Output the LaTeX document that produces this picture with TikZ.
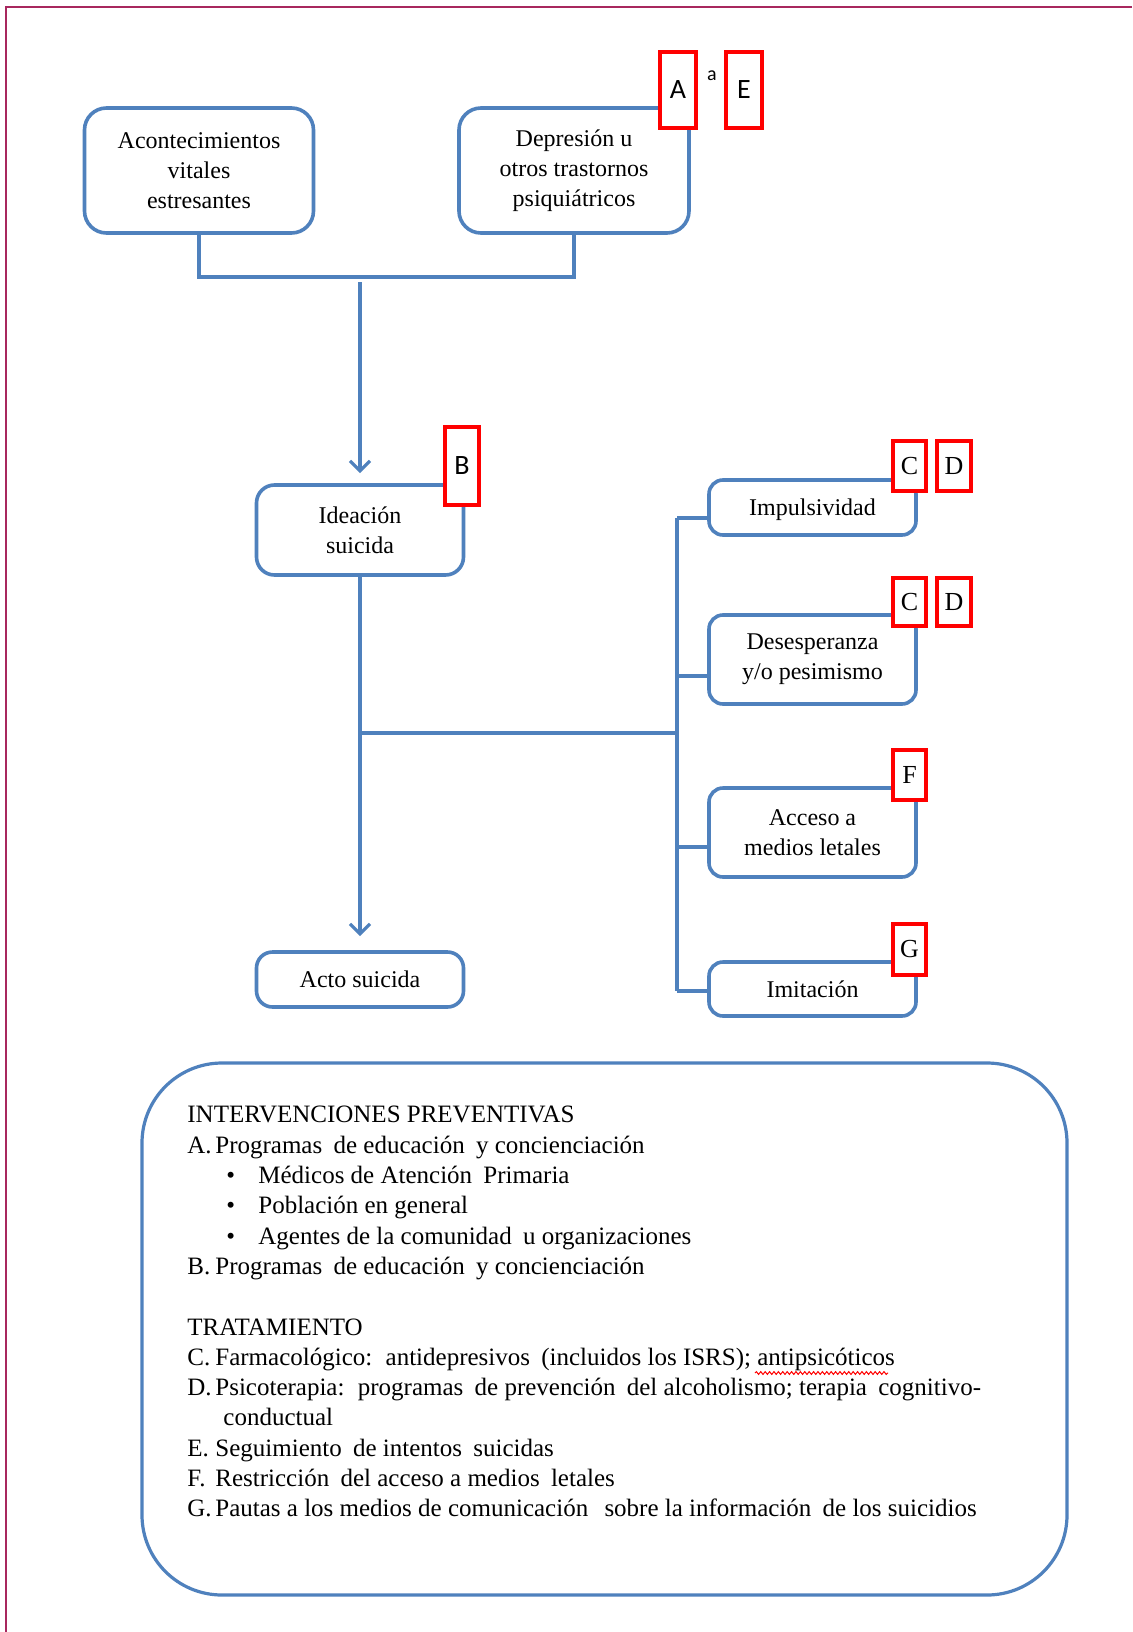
\documentclass[tikz,border=0pt]{standalone}
\usepackage{fontspec}
\setmainfont{Liberation Serif}
\newfontfamily\calfont{Carlito}
\usetikzlibrary{arrows.meta,decorations.pathmorphing}
\definecolor{sablue}{HTML}{4F81BD}
\definecolor{framecol}{HTML}{A8285E}
\newcommand\letitem[2]{\makebox[14pt][l]{#1}#2}
\newcommand\bulitem[1]{\hspace*{19.5pt}\makebox[16pt][l]{•}#1}
\newcommand\xs{\hspace{2.5pt}}
\begin{document}
\begin{tikzpicture}[x=0.5pt,y=-0.5pt,
  blbox/.style={draw=sablue, line width=1.8pt, align=center, inner sep=2pt, font=\fontsize{12}{15}\selectfont},
  redbox/.style={draw=red, line width=1.8pt, fill=white, inner sep=0pt},
  redsans/.style={redbox, font=\calfont\fontsize{14}{14}\selectfont},
  redserif/.style={redbox, font=\fontsize{13}{13}\selectfont},
  conn/.style={draw=sablue, line width=1.6pt},
  arr/.style={conn, -{Straight Barb[length=5pt,width=10pt,line width=1.6pt]}}
]
\useasboundingbox (0,0) rectangle (1132,1632);
\fill[white] (0,0) rectangle (1132,1632);
\draw[framecol, line width=1pt] (1132,7) -- (6,7) -- (6,1632);

% flow boxes
\node[blbox, rounded corners=11pt, minimum width=114.5pt, minimum height=62.5pt] (aco) at (199,170.5) {Acontecimientos\\vitales\\estresantes};
\node[blbox, rounded corners=11pt, minimum width=115pt, minimum height=62.5pt] (dep) at (574,170.5) {Depresión u\\otros trastornos\\psiquiátricos};
\node[blbox, rounded corners=9pt, minimum width=103.5pt, minimum height=45pt] (ide) at (360,530) {Ideación\\suicida};
\node[blbox, rounded corners=8pt, minimum width=103.5pt, minimum height=27.5pt] (acto) at (360,979.5) {Acto suicida};
\node[blbox, rounded corners=7pt, minimum width=103.5pt, minimum height=27.5pt, text depth=0pt] (imp) at (812.5,507.5) {Impulsividad};
\node[blbox, rounded corners=7pt, minimum width=103.5pt, minimum height=44.5pt] (des) at (812.5,659.5) {Desesperanza\\y/o pesimismo};
\node[blbox, rounded corners=7pt, minimum width=103.5pt, minimum height=44.5pt] (acc) at (812.5,832.5) {Acceso a\\medios letales};
\node[blbox, rounded corners=7pt, minimum width=103.5pt, minimum height=27pt] (imi) at (812.5,989) {Imitación};

% connectors
\coordinate (hbar) at (360,277);
\draw[conn] (aco.south) -- (aco.south |- hbar) -- (dep.south |- hbar) -- (dep.south);
\coordinate (trunk) at (360,282);
\draw[arr, shorten >=5pt] (trunk) -- (ide.north);
\draw[arr, shorten >=7pt] (ide.south) -- (acto.north);
\coordinate (split) at (360,733);
\coordinate (bus) at (677,733);
\draw[conn] (split) -- (bus);
\coordinate (b1) at (677,518);
\coordinate (b2) at (677,676);
\coordinate (b3) at (677,847);
\coordinate (b4) at (677,991);
\draw[conn] (b1) -- (b4);
\draw[conn] (b1) -- (b1 -| imp.west);
\draw[conn] (b2) -- (b2 -| des.west);
\draw[conn] (b3) -- (b3 -| acc.west);
\draw[conn] (b4) -- (b4 -| imi.west);

% red markers
\node[redsans, minimum width=18pt, minimum height=38pt] (ra) at (678,90) {A};
\node[redsans, minimum width=18pt, minimum height=38pt] (re) at (744,90) {E};
\node[font=\calfont\fontsize{10}{10}\selectfont, inner sep=0pt] (sa) at (712,76) {a};
\node[redsans, minimum width=17pt, minimum height=39pt] (rb) at (462,466) {B};
\node[redserif, minimum width=16.5pt, minimum height=25pt] (rc1) at (909.5,466) {C};
\node[redserif, minimum width=17pt, minimum height=25pt] (rd1) at (954,466) {D};
\node[redserif, minimum width=16.5pt, minimum height=24pt] (rc2) at (909.5,602) {C};
\node[redserif, minimum width=17pt, minimum height=24pt] (rd2) at (954,602) {D};
\node[redserif, minimum width=16.5pt, minimum height=25pt] (rf) at (909.5,775) {F};
\node[redserif, minimum width=16.5pt, minimum height=25.5pt] (rg) at (909.5,949.5) {G};

% prevention box
\node[draw=sablue, line width=1.6pt, rounded corners=40pt, minimum width=462.5pt, minimum height=266pt] (prev) at (604.5,1329) {};
\node[anchor=north west, inner sep=0pt, align=left, font=\fontsize{12.5}{15.15}\selectfont] (prevtext) at (187,1106) {%
INTERVENCIONES PREVENTIVAS\\
\letitem{A.}{Programas\xs{} de educación\xs{} y concienciación}\\
\bulitem{Médicos de Atención\xs{} Primaria}\\
\bulitem{Población en general}\\
\bulitem{Agentes de la comunidad\xs{} u organizaciones}\\
\letitem{B.}{Programas\xs{} de educación\xs{} y concienciación}\\[15.15pt]
TRATAMIENTO\\
\letitem{C.}{Farmacológico:\xs{} antidepresivos\xs{} (incluidos los ISRS); antipsicóticos}\\
\letitem{D.}{Psicoterapia:\xs{} programas\xs{} de prevención\xs{} del alcoholismo; terapia\xs{} cognitivo-}\\
\hspace*{18pt}conductual\\
\letitem{E.}{Seguimiento\xs{} de intentos\xs{} suicidas}\\
\letitem{F.}{Restricción\xs{} del acceso a medios\xs{} letales}\\
\letitem{G.}{Pautas a los medios de comunicación\xs\xs{} sobre la información\xs{} de los suicidios}};
\draw[red, line width=0.5pt, decorate, decoration={snake, amplitude=0.7pt, segment length=2.2pt}] (755,1373) -- (888,1373);
\end{tikzpicture}
\end{document}
